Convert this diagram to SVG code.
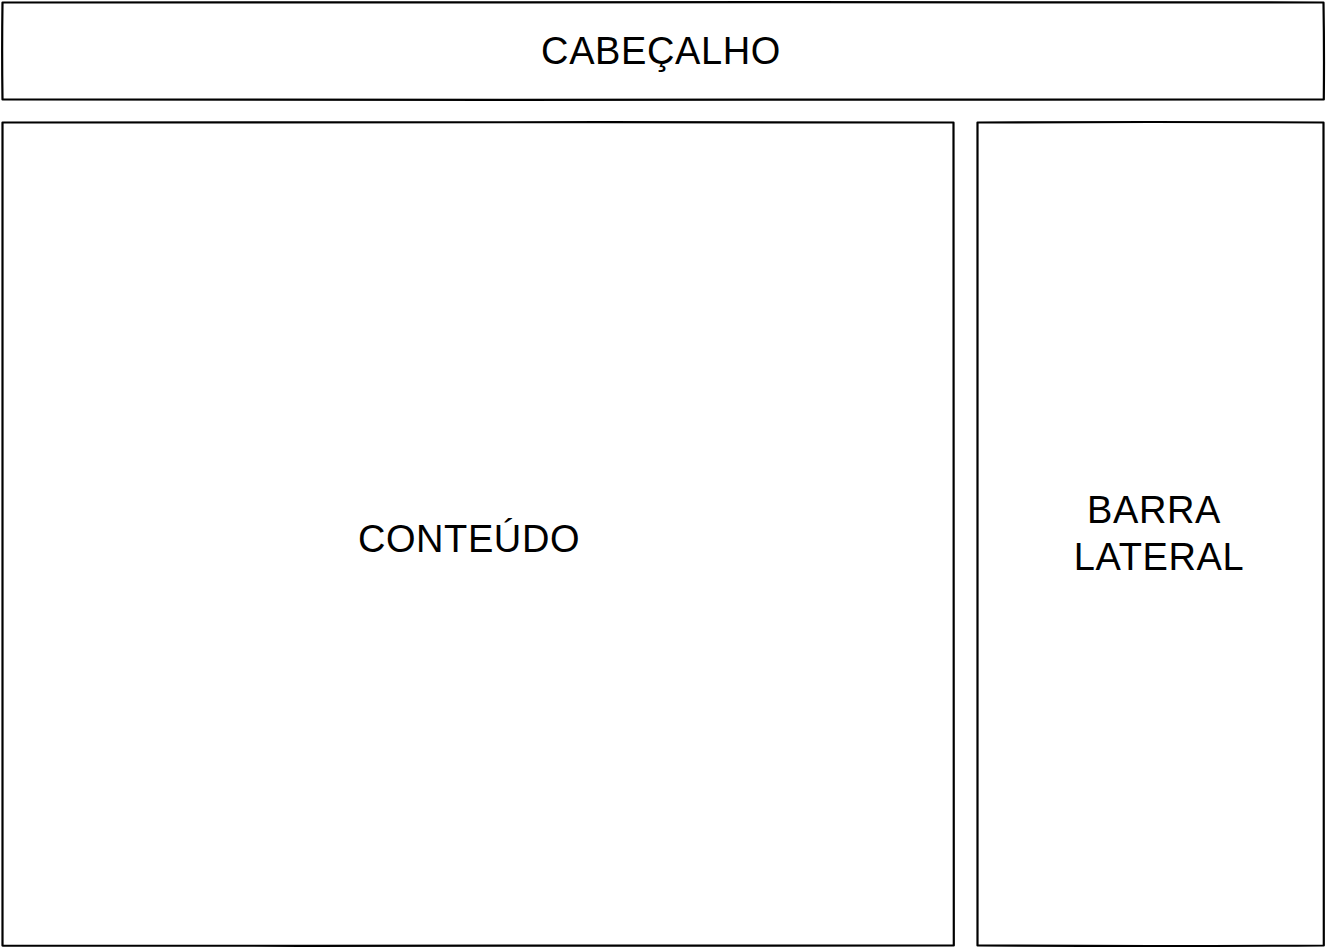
<svg xmlns="http://www.w3.org/2000/svg" width="1326" height="948" viewBox="0 0 1326 948">
<style>
.box{fill:#ffffff;stroke:#000000;stroke-width:2.2;stroke-linejoin:round;stroke-linecap:round}
.lbl{font-family:"Liberation Sans",Arial,Helvetica,sans-serif;font-size:38px;letter-spacing:0.6px;fill:#000000;text-anchor:middle}
</style>
<rect width="1326" height="948" fill="#ffffff"/>
<g id="cabecalho">
<path class="box" d="M2.5 2.5 Q400 1.5 800 2.2 T1323.5 2.5 Q1324.3 50 1323.8 99.5 Q900 100.5 500 99.8 T2.5 99.5 Q1.8 50 2.5 2.5 Z"/>
<text class="lbl" x="661" y="64">CABEÇALHO</text>
</g>
<g id="conteudo">
<path class="box" d="M2.5 122.5 Q300 121.3 600 122.2 T953.5 122.5 Q954.3 500 953.8 945.5 Q600 946.5 300 945.8 T2.5 945.5 Q1.7 500 2.5 122.5 Z"/>
<text class="lbl" x="469" y="552">CONTEÚDO</text>
</g>
<g id="barra-lateral">
<path class="box" d="M977.5 122.5 Q1150 121.5 1323.5 122.5 Q1324.3 500 1323.8 945.5 Q1150 946.5 977.5 945.5 Q976.7 500 977.5 122.5 Z"/>
<text class="lbl" x="1154" y="523">BARRA</text>
<text class="lbl" x="1159" y="570">LATERAL</text>
</g>
<g id="connectors"/>
</svg>
